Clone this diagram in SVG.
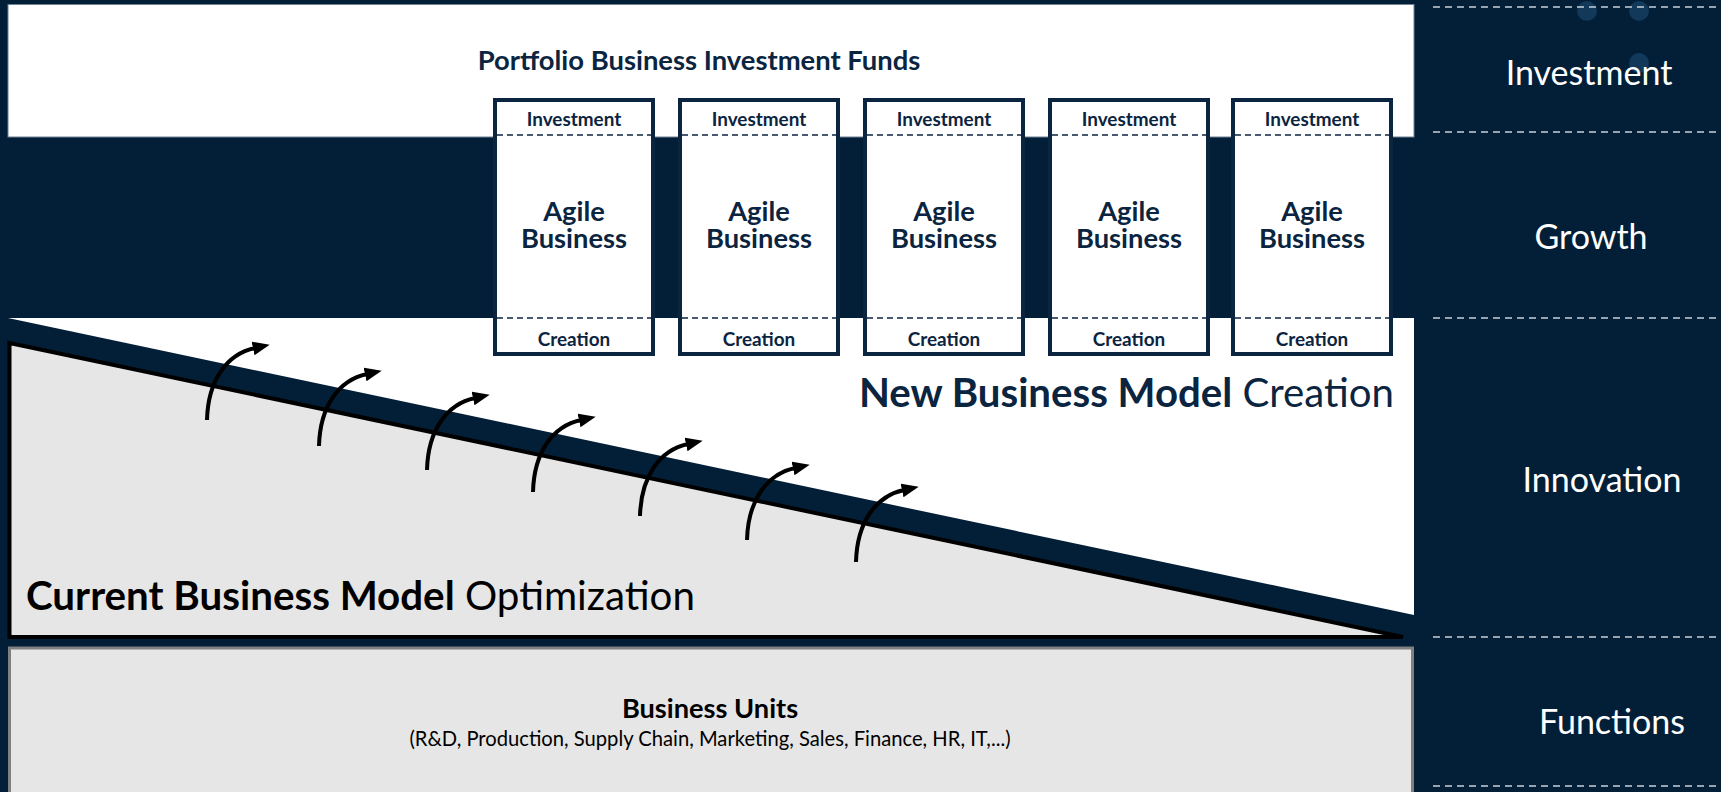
<svg xmlns="http://www.w3.org/2000/svg" width="1721" height="792" viewBox="0 0 1721 792">
<defs>
<style>
.lbl{font-family:Lato,'Open Sans',sans-serif;fill:#ffffff;font-size:34px;text-anchor:middle}
.bx{fill:#ffffff;stroke:#0b2440;stroke-width:4}
.dash{stroke:#0b2440;stroke-width:1.5;stroke-dasharray:6 4}
.rdash{stroke:#c9cfd6;stroke-width:1.5;stroke-dasharray:7 5}
.bt{font-family:Lato,'Open Sans',sans-serif;font-weight:700;fill:#0b2440;text-anchor:middle}
.sm{font-size:18.9px}
.big{font-size:27.3px}
.arr{fill:none;stroke:#000000;stroke-width:4;marker-end:url(#ah)}
.dot{fill:#12385a}
</style>
<marker id="ah" markerUnits="userSpaceOnUse" markerWidth="17" markerHeight="15" viewBox="0 0 17 15" refX="2" refY="7.5" orient="auto"><path d="M0,0.5 L17,7.5 L0,14.5 Z" fill="#000000"/></marker>
</defs>
<rect id="background" x="0" y="0" width="1721" height="792" fill="#031f37"/>
<g id="side-decor">
<circle class="dot" cx="1587" cy="11" r="10"/>
<circle class="dot" cx="1639" cy="11" r="10"/>
<circle class="dot" cx="1639" cy="63" r="10"/>
</g>
<g id="top-panel">
<rect x="8" y="4.5" width="1406" height="132.5" fill="#ffffff" stroke="#6f8193" stroke-width="1"/>
<text class="bt" x="699" y="69.5" font-size="27.4">Portfolio Business Investment Funds</text>
</g>
<g id="lower-panel">
<rect x="8" y="318" width="1406" height="328" fill="#ffffff"/>
<polygon points="8,318 1414,615 1414,646 8,646" fill="#031f37"/>
<polygon points="9.5,343 1403,637 9.5,637" fill="#e6e6e6" stroke="#000000" stroke-width="4"/>
<text x="26" y="609.5" font-family="Lato,'Open Sans',sans-serif" font-size="40.3" fill="#000000"><tspan font-weight="700">Current Business Model</tspan> Optimization</text>
<text x="1394" y="406.5" font-family="Lato,'Open Sans',sans-serif" font-size="40.2" fill="#0b2440" text-anchor="end"><tspan font-weight="700">New Business Model</tspan> Creation</text>
</g>
<g id="business-units">
<rect x="9.5" y="648" width="1403" height="150" fill="#e6e6e6" stroke="#808080" stroke-width="3"/>
<text x="710" y="718" font-family="Lato,'Open Sans',sans-serif" font-weight="700" font-size="27.2" fill="#000000" text-anchor="middle">Business Units</text>
<text x="710" y="746" font-family="Lato,'Open Sans',sans-serif" font-size="20.2" fill="#000000" text-anchor="middle">(R&amp;D, Production, Supply Chain, Marketing, Sales, Finance, HR, IT,...)</text>
</g>
<g id="agile-1">
<rect class="bx" x="495" y="100" width="158" height="254"/>
<line class="dash" x1="497" y1="135" x2="651" y2="135"/>
<line class="dash" x1="497" y1="318" x2="651" y2="318"/>
<text class="bt sm" x="574" y="125.5">Investment</text>
<text class="bt big" x="574" y="221"><tspan x="574">Agile</tspan><tspan x="574" dy="27">Business</tspan></text>
<text class="bt sm" x="574" y="345.5">Creation</text>
</g>
<g id="agile-2">
<rect class="bx" x="680" y="100" width="158" height="254"/>
<line class="dash" x1="682" y1="135" x2="836" y2="135"/>
<line class="dash" x1="682" y1="318" x2="836" y2="318"/>
<text class="bt sm" x="759" y="125.5">Investment</text>
<text class="bt big" x="759" y="221"><tspan x="759">Agile</tspan><tspan x="759" dy="27">Business</tspan></text>
<text class="bt sm" x="759" y="345.5">Creation</text>
</g>
<g id="agile-3">
<rect class="bx" x="865" y="100" width="158" height="254"/>
<line class="dash" x1="867" y1="135" x2="1021" y2="135"/>
<line class="dash" x1="867" y1="318" x2="1021" y2="318"/>
<text class="bt sm" x="944" y="125.5">Investment</text>
<text class="bt big" x="944" y="221"><tspan x="944">Agile</tspan><tspan x="944" dy="27">Business</tspan></text>
<text class="bt sm" x="944" y="345.5">Creation</text>
</g>
<g id="agile-4">
<rect class="bx" x="1050" y="100" width="158" height="254"/>
<line class="dash" x1="1052" y1="135" x2="1206" y2="135"/>
<line class="dash" x1="1052" y1="318" x2="1206" y2="318"/>
<text class="bt sm" x="1129" y="125.5">Investment</text>
<text class="bt big" x="1129" y="221"><tspan x="1129">Agile</tspan><tspan x="1129" dy="27">Business</tspan></text>
<text class="bt sm" x="1129" y="345.5">Creation</text>
</g>
<g id="agile-5">
<rect class="bx" x="1233" y="100" width="158" height="254"/>
<line class="dash" x1="1235" y1="135" x2="1389" y2="135"/>
<line class="dash" x1="1235" y1="318" x2="1389" y2="318"/>
<text class="bt sm" x="1312" y="125.5">Investment</text>
<text class="bt big" x="1312" y="221"><tspan x="1312">Agile</tspan><tspan x="1312" dy="27">Business</tspan></text>
<text class="bt sm" x="1312" y="345.5">Creation</text>
</g>
<g id="side-labels">
<line class="rdash" x1="1433" y1="7" x2="1721" y2="7"/>
<line class="rdash" x1="1433" y1="132" x2="1721" y2="132"/>
<line class="rdash" x1="1433" y1="318" x2="1721" y2="318"/>
<line class="rdash" x1="1433" y1="637" x2="1721" y2="637"/>
<line class="rdash" x1="1433" y1="786" x2="1721" y2="786"/>
<text class="lbl" x="1589" y="85">Investment</text>
<text class="lbl" x="1591" y="249">Growth</text>
<text class="lbl" x="1602" y="491.5">Innovation</text>
<text class="lbl" x="1612" y="733.5">Functions</text>
</g>
<g id="connectors">
<path class="arr" d="M207,420 c1,-40 20,-66 48,-72"/>
<path class="arr" d="M319,446 c1,-40 20,-66 48,-72"/>
<path class="arr" d="M427,470 c1,-40 20,-66 48,-72"/>
<path class="arr" d="M533,492 c1,-40 20,-66 48,-72"/>
<path class="arr" d="M640,516 c1,-40 20,-66 48,-72"/>
<path class="arr" d="M747,540 c1,-40 20,-66 48,-72"/>
<path class="arr" d="M856,562 c1,-40 20,-66 48,-72"/>
</g>
</svg>
